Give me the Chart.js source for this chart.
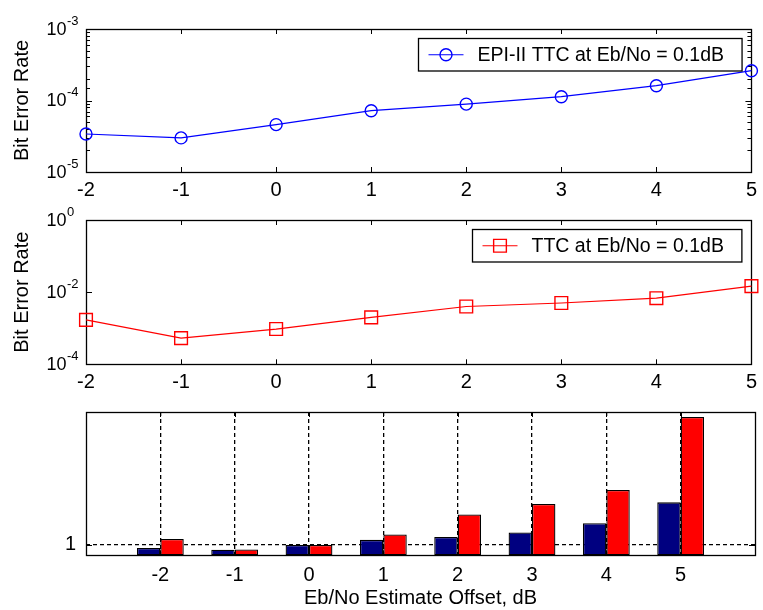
<!DOCTYPE html>
<html>
<head>
<meta charset="utf-8">
<script src="https://cdn.jsdelivr.net/npm/chart.js@4.4.1/dist/chart.umd.min.js"></script>
<style>
  html, body { margin: 0; padding: 0; background: #fff; }
  #wrap { position: relative; width: 763px; height: 610px; overflow: hidden; background: #fff; }
  canvas { position: absolute; left: 0; }
</style>
</head>
<body>
<div id="wrap">
  <canvas id="berEpi" width="763" height="200" style="top:0px"></canvas>
  <canvas id="berTtc" width="763" height="200" style="top:200px"></canvas>
  <canvas id="ratioBars" width="763" height="220" style="top:390px"></canvas>
</div>
<script>
// Eb/No estimate offset (dB)
const offsets = [-2, -1, 0, 1, 2, 3, 4, 5];
// bit error rates
const epiBer = [3.4e-5, 3.0e-5, 4.6e-5, 7.2e-5, 8.9e-5, 1.13e-4, 1.61e-4, 2.61e-4];
const ttcBer = [1.7e-3, 5.3e-4, 9.5e-4, 2.0e-3, 4.0e-3, 5.0e-3, 6.8e-3, 1.47e-2];
// bottom panel, BER relative to the 0 dB offset
const epiRatio = [0.70, 0.53, 1.0, 1.49, 1.77, 2.19, 3.08, 5.10];
const ttcRatio = [1.58, 0.56, 1.0, 2.0, 3.93, 4.95, 6.29, 13.33];
const ratioTicks = [1];

const epiLabel = 'EPI-II TTC at Eb/No = 0.1dB';
const ttcLabel = 'TTC at Eb/No = 0.1dB';

const SANS = "'Liberation Sans', Arial, sans-serif";
const NARROW = "'Liberation Sans Narrow', 'Liberation Sans', Arial, sans-serif";

Chart.defaults.color = '#000';
Chart.defaults.font.family = SANS;
Chart.defaults.font.size = 20;
Chart.defaults.animation = false;

// matlab style box, inside ticks, 10^x labels and a boxed legend
const matlabBox = {
  id: 'matlabBox',
  beforeDatasetsDraw(chart, args, opts) {
    const ctx = chart.ctx, a = chart.chartArea;
    const xs = chart.scales.x, ys = chart.scales.y;
    ctx.save();
    ctx.strokeStyle = '#000';
    ctx.lineWidth = 1;
    ctx.beginPath();
    xs.ticks.forEach(t => {
      const px = Math.round(xs.getPixelForValue(t.value)) + 0.5;
      ctx.moveTo(px, a.top); ctx.lineTo(px, a.top + 5);
      ctx.moveTo(px, a.bottom); ctx.lineTo(px, a.bottom - 5);
    });
    ys.ticks.forEach(t => {
      let major = true;
      if (opts.log) {
        const e = Math.log10(t.value);
        const r = Math.round(e);
        major = Math.abs(e - r) < 1e-6 && r % (opts.step || 1) === 0;
        if (!major && !opts.minor) return;
      }
      const len = major ? 6 : 4;
      const py = Math.round(ys.getPixelForValue(t.value)) + 0.5;
      ctx.moveTo(a.left, py); ctx.lineTo(a.left + len, py);
      ctx.moveTo(a.right, py); ctx.lineTo(a.right - len, py);
    });
    ctx.stroke();
    ctx.lineWidth = 1.3;
    ctx.strokeRect(Math.round(a.left) + 0.5, Math.round(a.top) + 0.5,
      Math.round(a.right - a.left), Math.round(a.bottom - a.top));

    if (opts.log) {
      const lo = Math.round(Math.log10(ys.min)), hi = Math.round(Math.log10(ys.max));
      ctx.fillStyle = '#000';
      ctx.textBaseline = 'middle';
      for (let k = lo; k <= hi; k += (opts.step || 1)) {
        const py = ys.getPixelForValue(Math.pow(10, k));
        ctx.font = '18px ' + SANS;
        ctx.textAlign = 'right';
        ctx.fillText('10', a.left - 19.5, py + 1);
        ctx.font = '13px ' + SANS;
        ctx.textAlign = 'left';
        ctx.fillText(String(k), a.left - 19, py - 8);
      }
    }
    ctx.restore();
  },
  afterDatasetsDraw(chart, args, opts) {
    if (!opts.legend) return;
    const ctx = chart.ctx, a = chart.chartArea;
    const ds = chart.data.datasets[0];
    ctx.save();
    ctx.font = '19.5px ' + SANS;
    const tw = ctx.measureText(ds.label).width;
    const w = 59 + tw + 18, h = 32.5;
    const x0 = Math.round(a.right - 10.3 - w) + 0.5, y0 = Math.round(a.top + 9) + 0.5;
    ctx.fillStyle = '#fff';
    ctx.fillRect(x0, y0, w, h);
    ctx.strokeStyle = '#000';
    ctx.lineWidth = 1.3;
    ctx.strokeRect(x0, y0, w, h);
    const cy = y0 + h / 2;
    ctx.strokeStyle = ds.borderColor;
    ctx.lineWidth = 1.2;
    ctx.beginPath();
    ctx.moveTo(x0 + 10, cy); ctx.lineTo(x0 + 45, cy);
    ctx.stroke();
    const mx = x0 + 27.5;
    ctx.beginPath();
    if (ds.pointStyle === 'rect') {
      const s = ds.pointRadius * Math.SQRT1_2;
      ctx.rect(mx - s, cy - s, 2 * s, 2 * s);
    } else {
      ctx.arc(mx, cy, ds.pointRadius, 0, Math.PI * 2);
    }
    ctx.lineWidth = ds.pointBorderWidth;
    ctx.stroke();
    ctx.fillStyle = '#000';
    ctx.textAlign = 'left';
    ctx.textBaseline = 'middle';
    ctx.fillText(ds.label, x0 + 59, cy + 1);
    ctx.restore();
  }
};

function logPanel(id, label, values, color, style, radius, yMin, yMax, step, minor, top, xHeight) {
  return new Chart(document.getElementById(id), {
    type: 'line',
    data: {
      datasets: [{
        label: label,
        data: offsets.map((o, i) => ({ x: o, y: values[i] })),
        borderColor: color,
        backgroundColor: 'transparent',
        borderWidth: 1.2,
        pointStyle: style,
        pointRadius: radius,
        pointHoverRadius: radius,
        pointBorderColor: color,
        pointBackgroundColor: 'transparent',
        pointBorderWidth: 1.4,
        tension: 0,
        clip: false
      }]
    },
    options: {
      responsive: false,
      layout: { padding: { top: top, right: 7, bottom: 0, left: 0 } },
      plugins: {
        legend: { display: false },
        tooltip: { enabled: false },
        matlabBox: { log: true, step: step, minor: minor, legend: true }
      },
      scales: {
        x: {
          type: 'linear',
          min: offsets[0],
          max: offsets[offsets.length - 1],
          grid: { display: false, drawTicks: false },
          border: { display: false },
          ticks: { stepSize: 1, padding: 6, font: { family: NARROW, size: 20 }, maxRotation: 0 },
          afterFit: s => { s.height = xHeight; }
        },
        y: {
          type: 'logarithmic',
          min: yMin,
          max: yMax,
          grid: { display: false, drawTicks: false },
          border: { display: false },
          ticks: { display: false },
          title: { display: true, text: 'Bit Error Rate', font: { size: 20 }, padding: { top: 10.5, bottom: 0 } },
          afterFit: s => { s.width = 86; }
        }
      }
    },
    plugins: [matlabBox]
  });
}

logPanel('berEpi', epiLabel, epiBer, '#0000ff', 'circle', 6, 1e-5, 1e-3, 1, true, 29, 28);
logPanel('berTtc', ttcLabel, ttcBer, '#ff0000', 'rect', 9, 1e-4, 1, 2, false, 20, 35.7);

new Chart(document.getElementById('ratioBars'), {
  type: 'bar',
  data: {
    datasets: [{
      label: epiLabel,
      data: offsets.map((o, i) => ({ x: o, y: epiRatio[i] })),
      backgroundColor: '#000080',
      borderColor: '#000',
      borderWidth: 1.3,
      borderSkipped: false
    }, {
      label: ttcLabel,
      data: offsets.map((o, i) => ({ x: o, y: ttcRatio[i] })),
      backgroundColor: '#ff0000',
      borderColor: '#000',
      borderWidth: 1.3,
      borderSkipped: false
    }]
  },
  options: {
    responsive: false,
    categoryPercentage: 0.63,
    barPercentage: 1.0,
    layout: { padding: { top: 20.7, right: 7, bottom: 0, left: 0 } },
    plugins: {
      legend: { display: false },
      tooltip: { enabled: false },
      matlabBox: { log: false, legend: false }
    },
    scales: {
      x: {
        type: 'linear',
        offset: false,
        min: offsets[0] - 1,
        max: offsets[offsets.length - 1] + 1,
        grid: {
          display: true, offset: false, drawTicks: false, lineWidth: 1.3,
          color: c => (c.tick && offsets.includes(c.tick.value)) ? '#000' : 'rgba(0,0,0,0)'
        },
        border: { display: false, dash: [4, 3] },
        ticks: {
          stepSize: 1, padding: 8, maxRotation: 0,
          font: { family: NARROW, size: 20 },
          callback: v => offsets.includes(v) ? String(v) : ''
        },
        title: { display: true, text: 'Eb/No Estimate Offset, dB', font: { size: 20 }, padding: { top: 0, bottom: 0 } },
        afterFit: s => { s.height = 54.7; }
      },
      y: {
        type: 'linear',
        min: 0,
        max: 13.8,
        grid: { display: true, drawTicks: false, color: '#000', lineWidth: 1.3 },
        border: { display: false, dash: [4, 3] },
        ticks: { padding: 10, font: { family: NARROW, size: 20 } },
        afterBuildTicks: s => { s.ticks = ratioTicks.map(v => ({ value: v })); },
        afterFit: s => { s.width = 86; }
      }
    }
  },
  plugins: [matlabBox]
});
</script>
</body>
</html>
